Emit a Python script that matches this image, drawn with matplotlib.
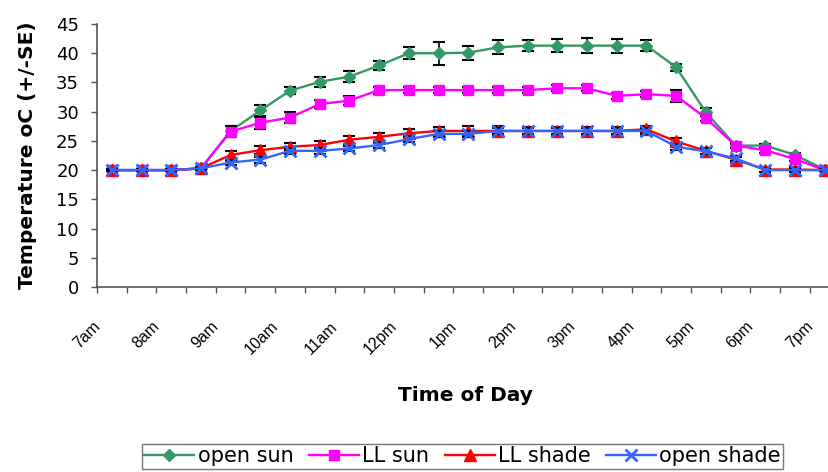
#!/usr/bin/env python3
"""
Temperature through the day (open sun / LL sun / LL shade / open shade), mean +/- SE
"""
import matplotlib
matplotlib.use("Agg")
import matplotlib.pyplot as plt

plt.rcParams["font.family"] = ["Liberation Sans", "DejaVu Sans"]
WIDE = "DejaVu Sans"   # wider face, closer to the stretched Excel text

# half-hour readings from 7am to 7pm
times = ["7am", "7:30am", "8am", "8:30am", "9am", "9:30am", "10am", "10:30am",
         "11am", "11:30am", "12pm", "12:30pm", "1pm", "1:30pm", "2pm", "2:30pm",
         "3pm", "3:30pm", "4pm", "4:30pm", "5pm", "5:30pm", "6pm", "6:30pm", "7pm"]
tick_labels = ["7am", "8am", "9am", "10am", "11am", "12pm", "1pm",
               "2pm", "3pm", "4pm", "5pm", "6pm", "7pm"]
y_ticks = [0, 5, 10, 15, 20, 25, 30, 35, 40, 45]

open_sun = [20.0, 20.0, 20.0, 20.3, 26.7, 30.2, 33.6, 35.1, 36.0, 37.9, 40.0, 40.0, 40.1,
            41.0, 41.3, 41.3, 41.3, 41.3, 41.3, 37.6, 29.9, 24.2, 24.2, 22.6, 20.1]
open_sun_se = [0.2, 0.2, 0.2, 0.3, 0.9, 0.9, 0.65, 0.85, 0.9, 0.85, 1.0, 2.0, 1.2,
               1.2, 1.0, 1.1, 1.25, 1.2, 1.0, 0.6, 0.65, 0.3, 0.3, 0.3, 0.2]

ll_sun = [20.0, 20.0, 20.0, 20.3, 26.6, 28.1, 29.0, 31.3, 31.9, 33.7, 33.7, 33.7, 33.7,
          33.7, 33.7, 34.0, 34.0, 32.7, 33.0, 32.7, 28.9, 24.2, 23.4, 21.9, 20.0]
ll_sun_se = [0.2, 0.2, 0.2, 0.3, 1.0, 1.0, 1.0, 0.75, 0.75, 0.6, 0.5, 0.5, 0.5,
             0.5, 0.5, 0.5, 0.5, 0.5, 0.5, 1.0, 0.5, 0.4, 0.4, 0.4, 0.2]

ll_shade = [20.0, 20.0, 20.0, 20.3, 22.6, 23.4, 24.0, 24.3, 25.2, 25.7, 26.3, 26.7, 26.7,
            26.7, 26.7, 26.7, 26.7, 26.7, 27.0, 24.9, 23.3, 21.8, 20.1, 20.1, 20.0]
ll_shade_se = [0.2, 0.2, 0.2, 0.3, 0.7, 0.7, 0.6, 0.6, 0.7, 0.7, 0.7, 0.7, 0.8,
               0.8, 0.7, 0.7, 0.7, 0.7, 0.6, 0.6, 0.5, 0.5, 0.4, 0.4, 0.2]

open_shade = [20.0, 20.0, 20.0, 20.3, 21.3, 21.8, 23.3, 23.3, 23.7, 24.3, 25.3, 26.2, 26.2,
              26.7, 26.7, 26.7, 26.7, 26.7, 26.7, 24.0, 23.2, 22.0, 20.0, 20.0, 20.0]
open_shade_se = [0.2, 0.2, 0.2, 0.3, 0.5, 0.5, 0.5, 0.5, 0.5, 0.5, 0.5, 0.5, 0.5,
                 0.5, 0.5, 0.5, 0.5, 0.5, 0.5, 0.5, 0.5, 0.4, 0.3, 0.3, 0.2]

series = [
    ("open sun", open_sun, open_sun_se, "#339966", "D", 6.5),
    ("LL sun", ll_sun, ll_sun_se, "#FF00FF", "s", 7.5),
    ("LL shade", ll_shade, ll_shade_se, "#FF0000", "^", 8),
    ("open shade", open_shade, open_shade_se, "#3366FF", "x", 8),
]

fig = plt.figure(figsize=(8.29, 4.72), dpi=100)
W, H = 829, 472
ax = fig.add_axes([97 / W, 185 / H, 742.5 / W, 263 / H])

xs = list(range(len(times)))
for k, (name, vals, se, col, mk, ms) in enumerate(series):
    ax.errorbar(xs, vals, yerr=se, fmt="none", ecolor="black", elinewidth=1.2,
                capsize=4, capthick=1.5, zorder=2 + 2 * k)
    ax.plot(xs, vals, color=col, marker=mk, markersize=ms, linewidth=1.7,
            markeredgewidth=2 if mk == "x" else 1, markeredgecolor=col,
            label=name, zorder=3 + 2 * k)

ax.set_yticks(y_ticks, labels=[str(v) for v in y_ticks], family=WIDE)
ax.tick_params(axis="y", direction="out", length=4.5, width=1, pad=8.5,
               labelsize=13, color="#555555")

# tick marks between categories (minor), hourly labels (major, no mark);
# label anchors sit a little left of the point so the slanted text ends there
label_nudge = -0.3
ax.set_xticks([i - 0.5 for i in range(len(times) + 1)], minor=True)
ax.set_xticks([times.index(t) + label_nudge for t in tick_labels])
ax.set_xticklabels(tick_labels, rotation=45, ha="right", va="bottom",
                   rotation_mode="anchor")
ax.tick_params(axis="x", which="major", length=0, pad=30.5, labelsize=11.5)
ax.tick_params(axis="x", which="minor", direction="out", length=4.5, width=1,
               color="#555555")
ax.set_xlim(-0.5, len(times) - 0.5)
ax.set_ylim(0, 45)

for side in ("top", "right"):
    ax.spines[side].set_visible(False)
for side in ("left", "bottom"):
    ax.spines[side].set_color("#555555")
    ax.spines[side].set_linewidth(1.2)

ax.set_ylabel("Temperature oC (+/-SE)", fontsize=14.5, fontweight="bold", family=WIDE)
ax.yaxis.set_label_coords(-0.081, 0.5)
ax.set_xlabel("Time of Day", fontsize=14.5, fontweight="bold", family=WIDE)
ax.xaxis.set_label_coords(0.496, -0.375)

leg = fig.legend(loc="upper left", bbox_to_anchor=(142 / W, 1 - 444 / H), ncol=4,
                 prop={"family": WIDE, "size": 15}, frameon=True, fancybox=False,
                 handlelength=2.4, handletextpad=0.15, columnspacing=0.75,
                 borderpad=0.12, borderaxespad=0)
leg.get_frame().set_edgecolor("#555555")
leg.get_frame().set_linewidth(1)

fig.savefig("out.png", dpi=100)
print("Saved out.png")
